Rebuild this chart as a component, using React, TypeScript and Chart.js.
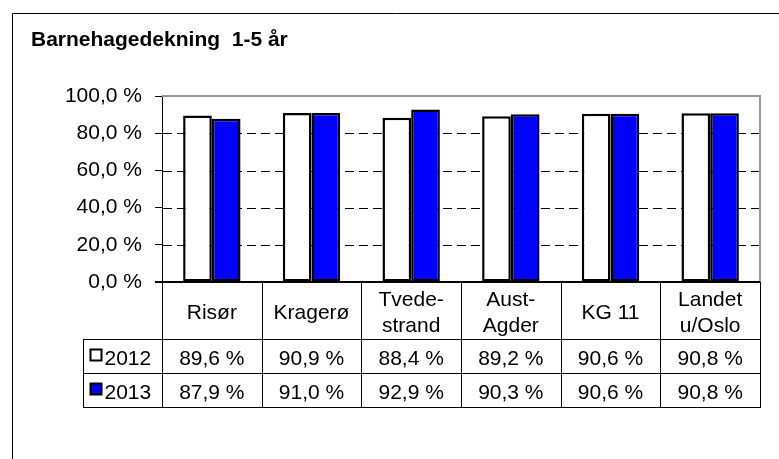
import React, { useEffect, useRef } from "react";
import { Chart, registerables } from "chart.js";

Chart.register(...registerables);

const TITLE = "Barnehagedekning  1-5 år";
const categoryLines: string[][] = [
  ["Risør"],
  ["Kragerø"],
  ["Tvede-", "strand"],
  ["Aust-", "Agder"],
  ["KG 11"],
  ["Landet", "u/Oslo"],
];
const seriesNames = ["2012", "2013"];
const values2012 = [89.6, 90.9, 88.4, 89.2, 90.6, 90.8];
const values2013 = [87.9, 91.0, 92.9, 90.3, 90.6, 90.8];
const seriesColors = ["#FFFFFF", "#0000FF"];
const yMin = 0;
const yMax = 100;
const yStep = 20;

const FONT = '"Liberation Sans", Arial, sans-serif';
const fmt = (v: number) => v.toFixed(1).replace(".", ",") + " %";

const seriesValues = [values2012, values2013];

const excelPlugin = {
  id: "excelTable",
  beforeDraw(chart: any) {
    const ctx = chart.ctx;
    ctx.save();
    ctx.fillStyle = "#fff";
    ctx.fillRect(0, 0, chart.width, chart.height);
    ctx.strokeStyle = "#000";
    ctx.lineWidth = 1;
    ctx.beginPath();
    ctx.moveTo(12.5, chart.height + 5);
    ctx.lineTo(12.5, 13.5);
    ctx.lineTo(chart.width + 5, 13.5);
    ctx.stroke();
    ctx.restore();
  },
  beforeDatasetsDraw(chart: any) {
    const ctx = chart.ctx;
    const ca = chart.chartArea;
    const y = chart.scales.y;
    ctx.save();
    ctx.strokeStyle = "#000";
    ctx.lineWidth = 1;
    ctx.setLineDash([9, 5]);
    y.ticks.forEach((t: any) => {
      if (t.value > y.min && t.value < y.max) {
        const py = Math.round(y.getPixelForValue(t.value)) + 0.5;
        ctx.beginPath();
        ctx.moveTo(ca.left + 1, py);
        ctx.lineTo(ca.right, py);
        ctx.stroke();
      }
    });
    ctx.setLineDash([]);
    ctx.strokeStyle = "#999";
    ctx.lineWidth = 2;
    ctx.beginPath();
    ctx.moveTo(ca.left, Math.round(ca.top));
    ctx.lineTo(Math.round(ca.right), Math.round(ca.top));
    ctx.lineTo(Math.round(ca.right), ca.bottom);
    ctx.stroke();
    ctx.restore();
  },
  afterDraw(chart: any) {
    const ctx = chart.ctx;
    const ca = chart.chartArea;
    const xs = chart.scales.x;
    const n = categoryLines.length;
    const colW = (ca.right - ca.left) / n;
    const top = Math.round(ca.bottom);
    const headerH = 57;
    const rowH = 34;
    const legendLeft = 83;
    const rowTops = [top + headerH, top + headerH + rowH];
    const bottom = top + headerH + 2 * rowH;
    const cr = (v: number) => Math.round(v) + 0.5;
    const line = (x1: number, y1: number, x2: number, y2: number) => {
      ctx.beginPath();
      ctx.moveTo(x1, y1);
      ctx.lineTo(x2, y2);
      ctx.stroke();
    };
    ctx.save();
    ctx.strokeStyle = "#000";
    ctx.lineWidth = 1;
    [top + headerH, top + headerH + rowH, bottom].forEach((yy) =>
      line(legendLeft, cr(yy), Math.round(ca.right) + 1, cr(yy))
    );
    for (let i = 0; i <= n; i++) {
      const xx = i === n ? ca.right : xs.getPixelForValue(i) - colW / 2;
      line(cr(xx), top, cr(xx), bottom + 1);
    }
    line(cr(legendLeft), top + headerH, cr(legendLeft), bottom + 1);
    // zero line
    ctx.lineWidth = 2;
    line(ca.left - 7, top, ca.right, top);

    ctx.fillStyle = "#000";
    ctx.font = `21px ${FONT}`;
    ctx.textAlign = "center";
    ctx.textBaseline = "alphabetic";
    const lh = 26;
    for (let i = 0; i < n; i++) {
      const cx = xs.getPixelForValue(i);
      const lines = categoryLines[i];
      const center = top + headerH / 2 + 1;
      const first = center - ((lines.length - 1) * lh) / 2 + 7.5;
      lines.forEach((t, k) => ctx.fillText(t, cx, first + k * lh));
      seriesValues.forEach((vals, s) => {
        const rc = rowTops[s] + rowH / 2;
        ctx.fillText(fmt(vals[i]), cx, rc + 8.5);
      });
    }
    ctx.textAlign = "left";
    seriesNames.forEach((name, s) => {
      const rc = rowTops[s] + rowH / 2;
      ctx.fillStyle = seriesColors[s];
      ctx.fillRect(90.5, rc - 6.5, 11, 11);
      ctx.strokeStyle = "#000";
      ctx.lineWidth = 2;
      ctx.strokeRect(90.5, rc - 6.5, 11, 11);
      ctx.fillStyle = "#000";
      ctx.fillText(name, 104.5, rc + 8.5);
    });
    ctx.restore();
  },
};

export default function App() {
  const canvasRef = useRef<HTMLCanvasElement | null>(null);
  useEffect(() => {
    if (!canvasRef.current) return;
    const chart = new Chart(canvasRef.current, {
      type: "bar",
      data: {
        labels: categoryLines.map((l) => l.join(" ")),
        datasets: [
          {
            label: seriesNames[0],
            data: values2012,
            backgroundColor: seriesColors[0],
            borderColor: "#000",
            borderWidth: 2.5,
            borderSkipped: false,
            categoryPercentage: 0.576,
            barPercentage: 1,
          },
          {
            label: seriesNames[1],
            data: values2013,
            backgroundColor: seriesColors[1],
            borderColor: "#000",
            borderWidth: 2.5,
            borderSkipped: false,
            categoryPercentage: 0.576,
            barPercentage: 1,
          },
        ],
      },
      options: {
        responsive: false,
        devicePixelRatio: 1,
        animation: false,
        layout: { padding: { left: 31, top: 0, right: 19, bottom: 177 } },
        plugins: {
          legend: { display: false },
          tooltip: { enabled: false },
          title: {
            display: true,
            text: TITLE,
            align: "start",
            color: "#000",
            font: { family: FONT, size: 21, weight: "bold", lineHeight: 1.2 },
            padding: { top: 28, bottom: 43 },
          },
        },
        scales: {
          x: { display: false },
          y: {
            min: yMin,
            max: yMax,
            afterFit: (s: any) => {
              s.width = 131;
            },
            ticks: {
              stepSize: yStep,
              autoSkip: false,
              color: "#000",
              padding: 13,
              font: { family: FONT, size: 21 },
              callback: (v: any) => fmt(Number(v)),
            },
            grid: {
              display: true,
              drawOnChartArea: false,
              drawTicks: true,
              tickLength: 7,
              color: "#000",
              lineWidth: 1,
            },
            border: { display: true, color: "#000", width: 1 },
          },
        },
      },
      plugins: [excelPlugin],
    });
    return () => chart.destroy();
  }, []);
  return (
    <div style={{ position: "fixed", left: 0, top: 0, width: 779, height: 459, background: "#fff" }}>
      <canvas ref={canvasRef} width={779} height={459} style={{ display: "block" }} />
    </div>
  );
}
